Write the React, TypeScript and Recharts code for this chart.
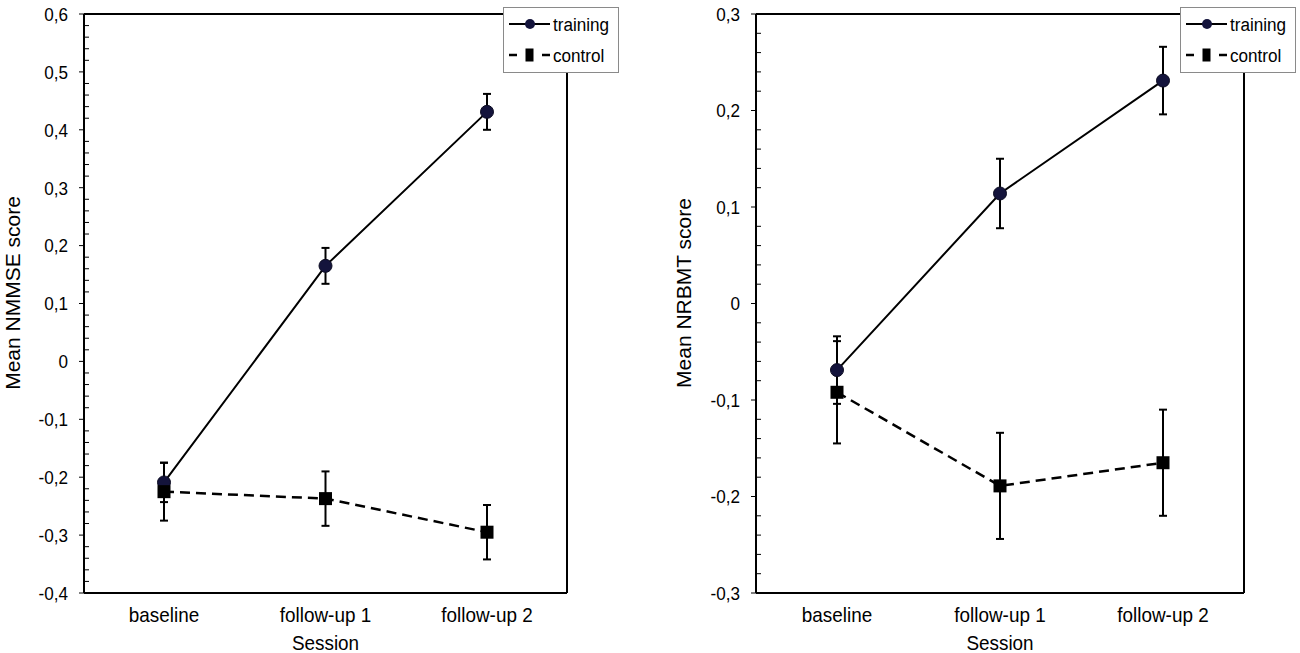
import React from 'react';
import { LineChart, Line, XAxis, YAxis, ErrorBar, CartesianGrid, Legend } from 'recharts';

const FONT = '"Liberation Sans", Arial, Helvetica, sans-serif';

// categories
const sessions = ['baseline', 'follow-up 1', 'follow-up 2'];
const seriesNames = ['training', 'control'];

// left panel (NMMSE)
const nmmseTraining = [-0.209, 0.165, 0.431];
const nmmseTrainingErr = [0.034, 0.031, 0.031];
const nmmseControl = [-0.225, -0.237, -0.295];
const nmmseControlErr = [0.05, 0.047, 0.047];
const nmmseTicks = [-0.4, -0.3, -0.2, -0.1, 0, 0.1, 0.2, 0.3, 0.4, 0.5, 0.6];

// right panel (NRBMT)
const nrbmtTraining = [-0.069, 0.114, 0.231];
const nrbmtTrainingErr = [0.035, 0.036, 0.035];
const nrbmtControl = [-0.092, -0.189, -0.165];
const nrbmtControlErr = [0.053, 0.055, 0.055];
const nrbmtTicks = [-0.3, -0.2, -0.1, 0, 0.1, 0.2, 0.3];

function makeData(tr: number[], trE: number[], ct: number[], ctE: number[]) {
  return sessions.map((s, i) => ({
    session: s,
    training: tr[i],
    trainingErr: trE[i],
    control: ct[i],
    controlErr: ctE[i],
  }));
}

function withMinor(majors: number[]) {
  const out: number[] = [];
  for (let i = 0; i < majors.length; i++) {
    out.push(majors[i]);
    if (i < majors.length - 1) {
      for (let k = 1; k < 5; k++) {
        out.push(+(majors[i] + ((majors[i + 1] - majors[i]) * k) / 5).toFixed(4));
      }
    }
  }
  return out;
}

function fmt(v: number) {
  if (Math.abs(v) < 1e-9) return '0';
  return v.toFixed(1).replace('.', ',');
}

// narrow-looking text (reference is slightly compressed horizontally)
const NText = ({ x, y, size, anchor, children, dy }: any) => (
  <text
    transform={`translate(${x},${y}) scale(0.9,1)`}
    x={0}
    y={0}
    dy={dy}
    textAnchor={anchor}
    fontSize={size}
    fontFamily={FONT}
    fill="#000"
  >
    {children}
  </text>
);

const YTick = (props: any) => {
  const { x, y, payload, majors } = props;
  const v = payload.value;
  const isMajor = majors.some((m: number) => Math.abs(m - v) < 1e-6);
  if (isMajor) {
    return (
      <g>
        <line x1={x - 5} x2={x} y1={y} y2={y} stroke="#000" strokeWidth={1} />
        <NText x={x - 16} y={y} dy="0.36em" anchor="end" size={19}>
          {fmt(v)}
        </NText>
      </g>
    );
  }
  return <line x1={x} x2={x + 5} y1={y} y2={y} stroke="#000" strokeWidth={1} />;
};

const XTick = (props: any) => {
  const { x, y, payload } = props;
  return (
    <NText x={x} y={y + 29} anchor="middle" size={21}>
      {payload.value}
    </NText>
  );
};

const SessionLabel = (props: any) => {
  const vb = props.viewBox || {};
  return (
    <NText x={vb.x + vb.width / 2} y={650} anchor="middle" size={21}>
      Session
    </NText>
  );
};

const CircleDot = (props: any) => {
  const { cx, cy, index } = props;
  if (cx == null || cy == null) return <g key={'c' + index} />;
  return <circle key={'c' + index} cx={cx} cy={cy} r={6.5} fill="#14143c" stroke="#0a0a20" strokeWidth={1} />;
};

const SquareDot = (props: any) => {
  const { cx, cy, index } = props;
  if (cx == null || cy == null) return <g key={'s' + index} />;
  return <rect key={'s' + index} x={cx - 6.5} y={cy - 6.5} width={13} height={13} fill="#000" />;
};

const LegendBox = () => (
  <svg width={116} height={66} style={{ display: 'block' }}>
    <rect x={0.5} y={0.5} width={115} height={65} fill="#fff" stroke="#8a8a8a" strokeWidth={1} />
    <line x1={6} x2={47} y1={17} y2={17} stroke="#000" strokeWidth={2} />
    <circle cx={27} cy={17} r={5} fill="#14143c" />
    <NText x={50} y={17} dy="0.36em" anchor="start" size={19}>
      {seriesNames[0]}
    </NText>
    <line x1={6} x2={14} y1={48} y2={48} stroke="#000" strokeWidth={2.5} />
    <rect x={22.5} y={41.5} width={8} height={13} fill="#000" />
    <line x1={39} x2={47} y1={48} y2={48} stroke="#000" strokeWidth={2.5} />
    <NText x={50} y={48} dy="0.36em" anchor="start" size={19}>
      {seriesNames[1]}
    </NText>
  </svg>
);

type PanelProps = {
  left: number;
  data: any[];
  majors: number[];
  yLabel: string;
  labelX: number;
  marginLeft: number;
  marginRight: number;
  xPad: number;
  legendLeft: number;
};

const Panel = ({ left, data, majors, yLabel, labelX, marginLeft, marginRight, xPad, legendLeft }: PanelProps) => {
  const ticks = withMinor(majors);
  return (
    <div style={{ position: 'absolute', left, top: 0, width: 650, height: 653 }}>
      <LineChart
        width={650}
        height={653}
        data={data}
        margin={{ top: 14, right: marginRight, bottom: 0, left: marginLeft }}
      >
        <CartesianGrid
          stroke="#000"
          strokeWidth={2}
          horizontalCoordinatesGenerator={(a: any) => [a.offset.top]}
          verticalCoordinatesGenerator={(a: any) => [a.offset.left + a.offset.width]}
        />
        <XAxis
          dataKey="session"
          padding={{ left: xPad, right: xPad }}
          height={60}
          tickLine={false}
          tickSize={0}
          tickMargin={0}
          interval={0}
          axisLine={{ stroke: '#000', strokeWidth: 2 }}
          tick={<XTick />}
          label={(p: any) => <SessionLabel {...p} />}
        />
        <YAxis
          type="number"
          domain={[majors[0], majors[majors.length - 1]]}
          ticks={ticks}
          interval={0}
          width={60}
          tickLine={false}
          tickSize={0}
          tickMargin={0}
          allowDataOverflow
          axisLine={{ stroke: '#000', strokeWidth: 2 }}
          tick={<YTick majors={majors} />}
          label={() => (
            <text
              x={labelX}
              y={293}
              transform={`rotate(-90 ${labelX} 293)`}
              textAnchor="middle"
              dy="0.36em"
              fontSize={21}
              fontFamily={FONT}
              fill="#000"
            >
              {yLabel}
            </text>
          )}
        />
        <Legend
          layout="vertical"
          align="center"
          verticalAlign="middle"
          content={() => <LegendBox />}
          wrapperStyle={{ left: legendLeft, top: 7, width: 116, height: 66 }}
        />
        <Line
          dataKey="training"
          name={seriesNames[0]}
          stroke="#000"
          strokeWidth={2}
          dot={<CircleDot />}
          activeDot={false}
          isAnimationActive={false}
        >
          <ErrorBar dataKey="trainingErr" width={4} stroke="#000" strokeWidth={2} direction="y" />
        </Line>
        <Line
          dataKey="control"
          name={seriesNames[1]}
          stroke="#000"
          strokeWidth={2.5}
          strokeDasharray="10 6"
          dot={<SquareDot />}
          activeDot={false}
          isAnimationActive={false}
        >
          <ErrorBar dataKey="controlErr" width={4} stroke="#000" strokeWidth={2} direction="y" />
        </Line>
      </LineChart>
    </div>
  );
};

export default function App() {
  const leftData = makeData(nmmseTraining, nmmseTrainingErr, nmmseControl, nmmseControlErr);
  const rightData = makeData(nrbmtTraining, nrbmtTrainingErr, nrbmtControl, nrbmtControlErr);
  return (
    <div style={{ position: 'absolute', left: 0, top: 0, width: 1300, height: 653, background: '#fff', overflow: 'hidden' }}>
      <Panel
        left={0}
        data={leftData}
        majors={nmmseTicks}
        yLabel="Mean NMMSE score"
        labelX={12}
        marginLeft={24}
        marginRight={83}
        xPad={80}
        legendLeft={503}
      />
      <Panel
        left={650}
        data={rightData}
        majors={nrbmtTicks}
        yLabel="Mean NRBMT score"
        labelX={33}
        marginLeft={46}
        marginRight={56}
        xPad={81}
        legendLeft={530}
      />
    </div>
  );
}
